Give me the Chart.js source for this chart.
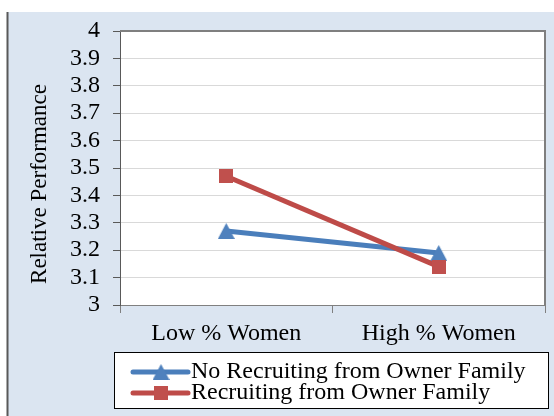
<!DOCTYPE html>
<html>
<head>
<meta charset="utf-8">
<script src="https://cdn.jsdelivr.net/npm/chart.js@4/dist/chart.umd.min.js"></script>
<style>
  html, body { margin: 0; padding: 0; background: #ffffff; }
  canvas { display: block; }
</style>
</head>
<body>
<canvas id="chart" width="554" height="416"></canvas>
<script>
// Chart data
const categories = ['Low % Women', 'High % Women'];
const noRecruitingValues = [3.27, 3.19];
const recruitingValues = [3.47, 3.14];
const seriesNames = ['No Recruiting from Owner Family', 'Recruiting from Owner Family'];
const yTickLabels = ['3', '3.1', '3.2', '3.3', '3.4', '3.5', '3.6', '3.7', '3.8', '3.9', '4'];
const yAxisTitle = 'Relative Performance';

const SERIF = '"Liberation Serif", "Times New Roman", serif';
const BLUE_LINE = '#4a7ebb', BLUE_MARK = '#4f81bd';
const RED_LINE = '#be4b48', RED_MARK = '#c0504d';

// Marker images (drawn centred on each point by Chart.js)
function triangleMarker(color) {
  const c = document.createElement('canvas');
  c.width = 17; c.height = 16;
  const g = c.getContext('2d');
  g.fillStyle = color;
  g.beginPath(); g.moveTo(8.5, 0); g.lineTo(17, 16); g.lineTo(0, 16); g.closePath(); g.fill();
  return c;
}
function squareMarker(color) {
  const c = document.createElement('canvas');
  c.width = 14; c.height = 14;
  const g = c.getContext('2d');
  g.fillStyle = color;
  g.fillRect(0, 0, 14, 14);
  return c;
}
const triImg = triangleMarker(BLUE_MARK);
const sqImg = squareMarker(RED_MARK);

// Panel background, plot frame, rotated axis title and boxed legend
const decorations = {
  id: 'decorations',
  beforeDraw(chart) {
    const { ctx, chartArea: a } = chart;
    ctx.save();
    ctx.fillStyle = '#ffffff';
    ctx.fillRect(0, 0, chart.width, chart.height);
    ctx.fillStyle = '#dbe5f1';
    ctx.fillRect(8, 12, chart.width - 8, chart.height - 12);
    ctx.fillStyle = '#595959';
    ctx.fillRect(6.5, 12, 2, chart.height - 12);
    ctx.fillStyle = '#ffffff';
    ctx.fillRect(a.left, a.top, a.right - a.left, a.bottom - a.top);
    ctx.restore();
  },
  afterDraw(chart) {
    const { ctx, chartArea: a } = chart;
    ctx.save();
    // plot frame
    ctx.strokeStyle = '#7f7f7f';
    ctx.lineWidth = 2;
    ctx.beginPath();
    ctx.moveTo(a.left, a.top); ctx.lineTo(a.right, a.top); ctx.lineTo(a.right, a.bottom);
    ctx.stroke();

    // y axis title
    ctx.fillStyle = '#000000';
    ctx.font = '23px ' + SERIF;
    ctx.textAlign = 'center';
    ctx.textBaseline = 'middle';
    ctx.translate(40, 184);
    ctx.rotate(-Math.PI / 2);
    ctx.fillText(yAxisTitle, 0, 0);
    ctx.setTransform(1, 0, 0, 1, 0, 0);

    // legend
    ctx.fillStyle = '#ffffff';
    ctx.fillRect(114, 352, 434, 56);
    ctx.strokeStyle = '#000000';
    ctx.lineWidth = 1;
    ctx.strokeRect(114.5, 352.5, 434, 56);
    const rows = [
      { y: 372, line: BLUE_LINE, img: triImg, text: seriesNames[0] },
      { y: 393, line: RED_LINE, img: sqImg, text: seriesNames[1] }
    ];
    rows.forEach(r => {
      ctx.strokeStyle = r.line;
      ctx.lineWidth = 5;
      ctx.lineCap = 'round';
      ctx.beginPath(); ctx.moveTo(133, r.y); ctx.lineTo(188, r.y); ctx.stroke();
      ctx.drawImage(r.img, 161 - r.img.width / 2, r.y - r.img.height / 2);
      ctx.fillStyle = '#000000';
      ctx.font = '24px ' + SERIF;
      ctx.textAlign = 'left';
      ctx.textBaseline = 'middle';
      ctx.fillText(r.text, 191, r.y);
    });
    ctx.restore();
  }
};

new Chart(document.getElementById('chart'), {
  type: 'line',
  data: {
    labels: categories,
    datasets: [
      {
        label: seriesNames[0],
        data: noRecruitingValues,
        borderColor: BLUE_LINE,
        backgroundColor: BLUE_MARK,
        borderWidth: 5,
        pointStyle: triImg,
        order: 1
      },
      {
        label: seriesNames[1],
        data: recruitingValues,
        borderColor: RED_LINE,
        backgroundColor: RED_MARK,
        borderWidth: 5,
        pointStyle: sqImg,
        order: 0
      }
    ]
  },
  options: {
    responsive: false,
    animation: false,
    events: [],
    layout: { padding: { left: 0, right: 6, top: 31, bottom: 0 } },
    plugins: { legend: { display: false }, tooltip: { enabled: false } },
    scales: {
      x: {
        offset: true,
        grid: { offset: true, drawOnChartArea: false, drawTicks: true, tickLength: 8, tickColor: '#808080', color: '#808080' },
        border: { color: '#808080', width: 1 },
        ticks: { color: '#000000', font: { family: SERIF, size: 24 }, padding: 6, maxRotation: 0 },
        afterFit(s) { s.height = 111; }
      },
      y: {
        min: 3,
        max: 4,
        grid: { color: '#d9d9d9', tickColor: '#595959', tickLength: 7, lineWidth: 1 },
        border: { color: '#595959', width: 1 },
        ticks: {
          stepSize: 0.1,
          autoSkip: false,
          color: '#000000',
          font: { family: SERIF, size: 24 },
          padding: 13,
          callback: (v, i) => yTickLabels[i]
        },
        afterFit(s) { s.width = 120; }
      }
    }
  },
  plugins: [decorations]
});
</script>
</body>
</html>
